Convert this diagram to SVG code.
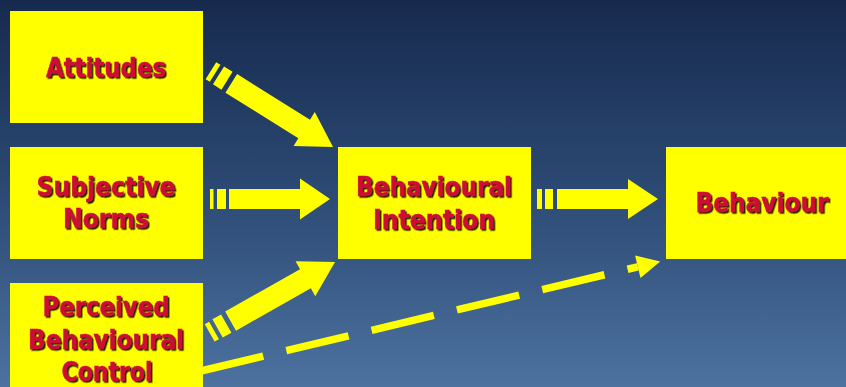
<svg xmlns="http://www.w3.org/2000/svg" width="846" height="387" viewBox="0 0 846 387">
  <defs>
    <linearGradient id="bg" x1="0" y1="0" x2="0" y2="1">
      <stop offset="0" stop-color="#172a4e"/>
      <stop offset="0.5" stop-color="#2c4a74"/>
      <stop offset="1" stop-color="#4d72a0"/>
    </linearGradient>
    <filter id="sh" x="-10%" y="-30%" width="120%" height="160%">
      <feDropShadow dx="1.5" dy="1.5" stdDeviation="0" flood-color="#000" flood-opacity="0.9"/>
    </filter>
    <g id="diagArrow">
      <rect x="0" y="-10" width="5" height="20"/>
      <rect x="9" y="-10.5" width="10" height="21"/>
      <polygon points="24,-11 110,-11 110,-20 144,0 110,20 110,11 24,11"/>
    </g>
  </defs>
  <style>
    .box { fill: #ffff00; }
    .lbl { font-family: "DejaVu Sans", sans-serif; font-weight: bold; font-size: 26px; fill: #cc0d35; stroke: #cc0d35; stroke-width: 0.5; text-anchor: middle; filter: url(#sh); }
    .arrow { fill: #ffff00; }
    .dash { stroke: #ffff00; stroke-width: 7.5; fill: none; stroke-dasharray: 64 23.7; }
  </style>
  <rect x="0" y="0" width="846" height="387" fill="url(#bg)"/>

  <g id="attitudes">
    <rect class="box" x="10" y="11" width="193" height="112"/>
    <text class="lbl" x="106" y="77" textLength="120" lengthAdjust="spacingAndGlyphs">Attitudes</text>
  </g>
  <g id="subjective-norms">
    <rect class="box" x="10" y="147" width="193" height="112"/>
    <text class="lbl" x="106" y="195.5" textLength="139" lengthAdjust="spacingAndGlyphs">Subjective</text>
    <text class="lbl" x="106" y="227.5" textLength="86" lengthAdjust="spacingAndGlyphs">Norms</text>
  </g>
  <g id="perceived-behavioural-control">
    <rect class="box" x="10" y="283" width="193" height="110"/>
    <text class="lbl" x="106" y="315.5" textLength="127" lengthAdjust="spacingAndGlyphs">Perceived</text>
    <text class="lbl" x="106" y="348.5" textLength="156" lengthAdjust="spacingAndGlyphs">Behavioural</text>
    <text class="lbl" x="107" y="380.5" textLength="91" lengthAdjust="spacingAndGlyphs">Control</text>
  </g>
  <g id="behavioural-intention">
    <rect class="box" x="338" y="147" width="193" height="112"/>
    <text class="lbl" x="434" y="196" textLength="156" lengthAdjust="spacingAndGlyphs">Behavioural</text>
    <text class="lbl" x="434" y="228.5" textLength="122" lengthAdjust="spacingAndGlyphs">Intention</text>
  </g>
  <g id="behaviour">
    <rect class="box" x="666" y="147" width="190" height="112"/>
    <text class="lbl" x="762" y="211.5" textLength="133" lengthAdjust="spacingAndGlyphs">Behaviour</text>
  </g>

  <g id="connectors">
    <use href="#diagArrow" class="arrow" transform="translate(210.9,70.7) rotate(32)"/>
    <g class="arrow">
      <rect x="210" y="189" width="3.5" height="20"/>
      <rect x="217" y="189" width="9" height="20"/>
      <polygon points="229,189 300,189 300,178.5 330,199 300,219.5 300,209 229,209"/>
    </g>
    <use href="#diagArrow" class="arrow" transform="translate(209.7,332.9) rotate(-29.5)"/>
    <g class="arrow">
      <rect x="537" y="189" width="5" height="20"/>
      <rect x="545" y="189" width="8" height="20"/>
      <polygon points="557,189 628,189 628,179 658,199 628,219 628,209 557,209"/>
    </g>
    <line class="dash" x1="201" y1="371" x2="637.8" y2="266.8"/>
    <polygon class="arrow" points="635.1,255.6 660.2,261.5 640.5,278"/>
  </g>
</svg>
